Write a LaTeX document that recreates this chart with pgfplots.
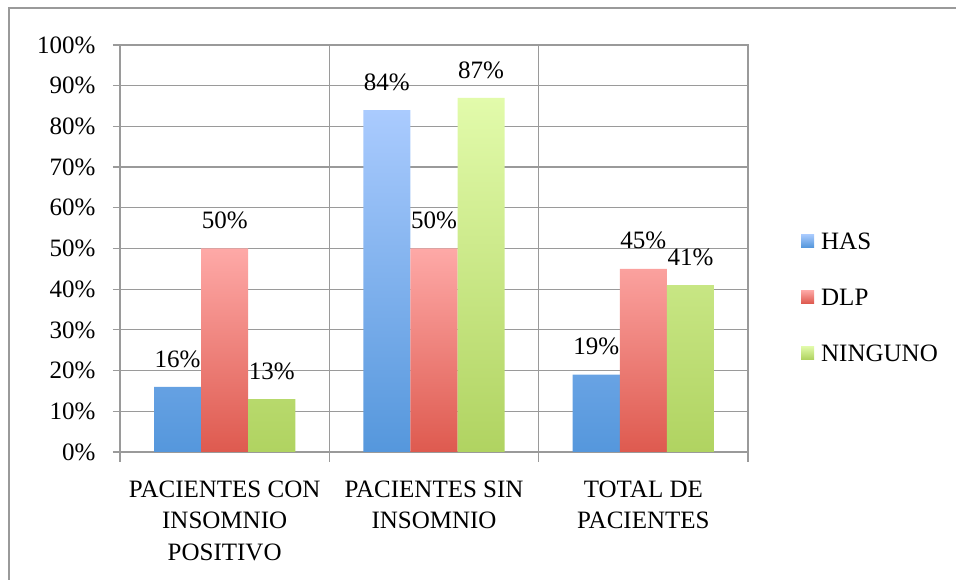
\documentclass[border=0pt]{standalone}
\usepackage{pgfplots}
\pgfplotsset{compat=1.18}
\usepackage{fontspec}
\setmainfont{Liberation Serif}

\definecolor{gridgray}{HTML}{9A9A9A}
\definecolor{hasTop}{HTML}{AACBFE}
\definecolor{hasBot}{HTML}{5597DC}
\definecolor{dlpTop}{HTML}{FEA9A7}
\definecolor{dlpBot}{HTML}{DE5A4F}
\definecolor{ninTop}{HTML}{E2FBAB}
\definecolor{ninBot}{HTML}{B0D361}

\newcommand{\chartfont}{\fontsize{25bp}{31.5bp}\selectfont}

\begin{document}
\begin{tikzpicture}
\useasboundingbox (0,0) rectangle (956bp,580bp);
\draw[gridgray, line width=1.2bp] (9bp,0) -- (9bp,572bp) -- (956bp,572bp);
\begin{axis}[
    at={(120bp,128bp)}, anchor=south west,
    scale only axis, width=628bp, height=407bp,
    ybar=0pt, bar width=0.225,
    xmin=-0.5, xmax=2.5, ymin=0, ymax=100,
    xtick={0,1,2},
    xticklabels={PACIENTES CON\\INSOMNIO\\POSITIVO, PACIENTES SIN\\INSOMNIO, TOTAL DE\\PACIENTES},
    minor xtick={-0.5,0.5,1.5,2.5},
    ytick={0,10,...,100},
    yticklabel={\pgfmathprintnumber{\tick}\%},
    tick align=outside, tick pos=left,
    major x tick style={draw=none},
    major tick length=7bp, minor tick length=10bp,
    every tick/.style={gridgray, line width=1.2bp},
    ymajorgrids, xminorgrids,
    grid style={gridgray, line width=1.2bp},
    axis line style={gridgray, line width=1.2bp},
    /pgf/number format/assume math mode=true,
    tick label style={font=\chartfont, text=black},
    x tick label style={align=center, yshift=-18bp},
    y tick label style={xshift=-14bp},
    clip=false,
    nodes near coords={\pgfmathprintnumber{\pgfplotspointmeta}\%},
    every node near coord/.append style={font=\chartfont, text=black, yshift=16bp},
    legend style={draw=none, fill=none, at={(1,0.378)}, anchor=west, xshift=50bp,
        font=\chartfont, row sep=36bp,
        nodes={inner sep=1bp},
        /tikz/every odd column/.append style={column sep=6bp}},
    legend cell align=left,
    legend image code/.code={\path[#1, draw=none] (0bp,-5bp) rectangle (13bp,8bp);},
]
\addplot[draw=none, top color=hasTop, bottom color=hasBot] coordinates {(0,16) (1,84) (2,19)};
\addplot[draw=none, top color=dlpTop, bottom color=dlpBot] coordinates {(0,50) (1,50) (2,45)};
\addplot[draw=none, top color=ninTop, bottom color=ninBot] coordinates {(0,13) (1,87) (2,41)};
\legend{HAS, DLP, NINGUNO}
\end{axis}
\end{tikzpicture}
\end{document}
